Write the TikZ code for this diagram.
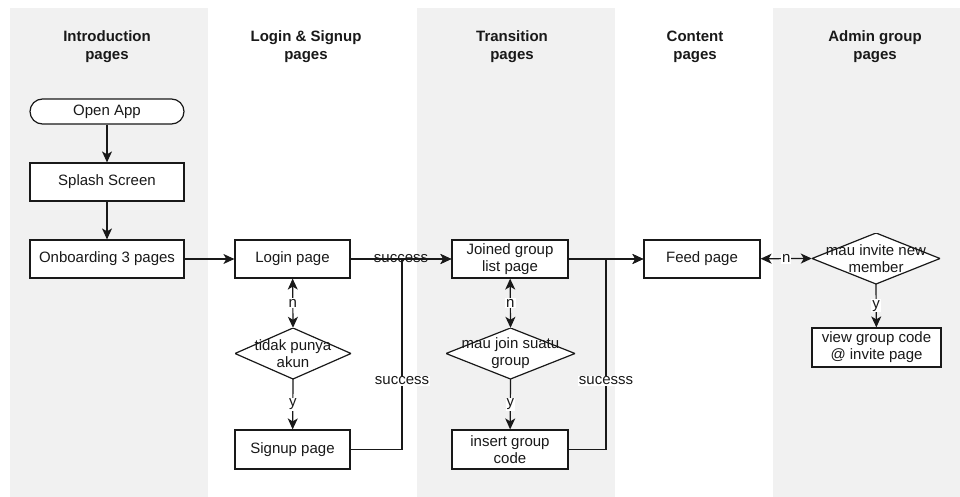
\documentclass[tikz,border=0pt]{standalone}
\usepackage{fontspec}
\setmainfont{Liberation Sans}
\usetikzlibrary{arrows.meta}
\definecolor{lanegrey}{RGB}{241,241,241}
\definecolor{ink}{RGB}{25,25,25}
\begin{document}
\begin{tikzpicture}[x=1pt,y=-1pt,
  txt/.style={font=\fontsize{15}{17}\selectfont, text=ink},
  hdr/.style={font=\bfseries\fontsize{15}{18}\selectfont, text=ink, align=center},
  box/.style={txt, draw=ink, fill=white, line width=1.2pt, inner sep=1pt, align=center},
  term/.style={box, rounded corners=12.5pt},
  dmd/.style={txt, rectangle, inner sep=0pt, align=center,
    path picture={\draw[line width=1.2pt, draw=ink, fill=white]
      (path picture bounding box.north) -- (path picture bounding box.east) --
      (path picture bounding box.south) -- (path picture bounding box.west) -- cycle;}},
  tip/.tip={Stealth[length=11pt,width=10pt,inset=3pt]},
  arr/.style={line width=1.2pt, draw=ink, -tip},
  barr/.style={line width=1.2pt, draw=ink, tip-tip},
  lbl/.style={txt, fill=white, inner sep=1pt},
  lblnf/.style={txt, inner sep=1pt}
]
\useasboundingbox (0,0) rectangle (960,497);
% lanes
\fill[lanegrey] (10,8) rectangle (208,497);
\fill[lanegrey] (417,8) rectangle (615,497);
\fill[lanegrey] (773,8) rectangle (960,497);

% headers
\node[hdr] (h1) at (107,47) {Introduction\\pages};
\node[hdr] (h2) at (306,47) {Login \& Signup\\pages};
\node[hdr] (h3) at (512,47) {Transition\\pages};
\node[hdr] (h4) at (695,47) {Content\\pages};
\node[hdr] (h5) at (875,47) {Admin group\\pages};

% nodes
\node[term, minimum width=154pt, minimum height=25pt] (open) at (107,111.5) {Open App};
\node[box, minimum width=154pt, minimum height=38pt] (splash) at (107,182) {Splash Screen};
\node[box, minimum width=154pt, minimum height=38pt] (onb) at (107,259) {Onboarding 3 pages};
\node[box, minimum width=115pt, minimum height=38pt] (login) at (292.5,259) {Login page};
\node[dmd, minimum width=116pt, minimum height=51pt] (tidak) at (293,353.5) {tidak punya\\akun};
\node[box, minimum width=115pt, minimum height=39pt] (signup) at (292.5,449.5) {Signup page};
\node[box, minimum width=116pt, minimum height=38pt] (joined) at (510,259) {Joined group\\list page};
\node[dmd, minimum width=129pt, minimum height=51pt] (join) at (510.5,353.5) {mau join suatu\\group};
\node[box, minimum width=116pt, minimum height=39pt] (insert) at (510,449.5) {insert group\\code};
\node[box, minimum width=116pt, minimum height=38pt] (feed) at (702,259) {Feed page};
\node[dmd, minimum width=128pt, minimum height=51pt] (invite) at (876,258.5) {mau invite new\\member};
\node[box, minimum width=129pt, minimum height=39pt] (view) at (876.5,347.5) {view group code\\@ invite page};

% helper coordinates
\coordinate (c1) at (402,449.5);
\coordinate (j1) at (402,259);
\coordinate (c2) at (606,449.5);
\coordinate (j2) at (606,259);

% connectors
\draw[arr] (open) -- (splash);
\draw[arr] (splash) -- (onb);
\draw[arr] (onb) -- (login);
\draw[arr] (login) -- node[lblnf] {success} (joined);
\draw[arr] (signup.east) -- (c1) -- node[lbl, pos=0.36] {success} (j1) -- (joined.west);
\draw[barr] (login) -- node[lbl] {n} (tidak.north);
\draw[arr] (tidak.south) -- node[lbl] {y} (signup);
\draw[arr] (joined) -- (feed);
\draw[arr] (insert.east) -- (c2) -- node[lbl, pos=0.36] {sucesss} (j2) -- (feed.west);
\draw[barr] (joined) -- node[lbl] {n} (join.north);
\draw[arr] (join.south) -- node[lbl] {y} (insert);
\draw[barr] (feed) -- node[lbl] {n} (invite.west);
\draw[arr] (invite.south) -- node[lbl] {y} (view);
\end{tikzpicture}
\end{document}
